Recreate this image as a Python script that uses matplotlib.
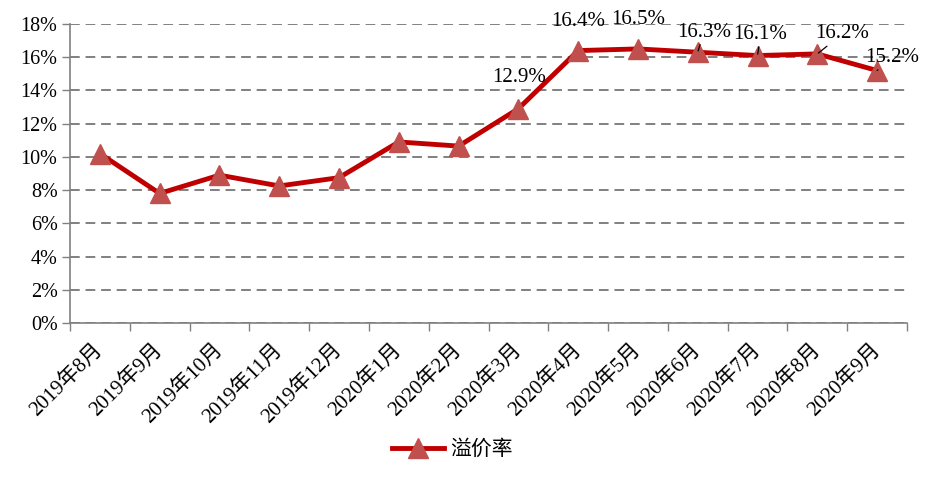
import matplotlib
matplotlib.use("Agg")
import matplotlib.pyplot as plt
from matplotlib.ticker import FixedLocator, PercentFormatter

plt.rcParams["font.family"] = ["Liberation Serif", "Noto Sans CJK SC"]

months = ["2019年8月", "2019年9月", "2019年10月", "2019年11月", "2019年12月",
          "2020年1月", "2020年2月", "2020年3月", "2020年4月", "2020年5月",
          "2020年6月", "2020年7月", "2020年8月", "2020年9月"]
premium = [10.2, 7.8, 8.9, 8.25, 8.75, 10.9, 10.65, 12.9, 16.4, 16.5,
           16.3, 16.1, 16.2, 15.2]

# which points get a label, and where the label sits (pixel offsets)
label_idx = [7, 8, 9, 10, 11, 12, 13]
label_off = [(1, 31), (0, 29), (0, 29), (6, 20), (3, 21), (25, 20), (15, 13)]
leader = [False, False, False, True, True, True, True]

grey = "#808080"

fig = plt.figure(figsize=(9.46, 4.78), dpi=100)
ax = fig.add_axes([70 / 946, 1 - 323 / 478, (907 - 70) / 946, (323 - 24) / 478])

x = list(range(len(months)))
ax.plot(x, premium, color="#C00000", lw=3.5, marker="^", markersize=15,
        markerfacecolor="#C0504D", markeredgecolor="#C0504D", label="溢价率",
        zorder=3)

ax.set_xlim(-0.5, len(months) - 0.5)
ax.set_ylim(0, 18)
ax.set_yticks(range(0, 19, 2))
ax.yaxis.set_major_formatter(PercentFormatter(decimals=0))
ax.yaxis.grid(True, color=grey, ls=(0, (5, 3)), lw=1.4)
ax.set_axisbelow(True)

ax.set_xticks(x)
ax.set_xticklabels(months, rotation=45, ha="right", va="center",
                   rotation_mode="anchor")
ax.xaxis.set_minor_locator(FixedLocator([i - 0.5 for i in range(len(months) + 1)]))
ax.tick_params(axis="x", which="major", length=0, pad=17, labelsize=15)
ax.tick_params(axis="x", which="minor", length=6, color=grey, width=1)
ax.tick_params(axis="y", length=6, color=grey, width=1, labelsize=14.5, pad=3)

for s in ["top", "right"]:
    ax.spines[s].set_visible(False)
for s in ["left", "bottom"]:
    ax.spines[s].set_color(grey)
    ax.spines[s].set_linewidth(1.2)

for i, off, ld in zip(label_idx, label_off, leader):
    props = dict(arrowstyle="-", color="black", lw=0.9, shrinkA=0, shrinkB=1) if ld else None
    ax.annotate(f"{premium[i]:.1f}%", (x[i], premium[i]), xytext=off,
                textcoords="offset pixels", ha="center", va="center",
                fontsize=15, arrowprops=props, zorder=4)

fig.legend(loc="center", bbox_to_anchor=(452 / 946, 1 - 450 / 478), frameon=False,
           fontsize=15, handlelength=2.5, handletextpad=0.3)

fig.savefig("out.png", dpi=100)
